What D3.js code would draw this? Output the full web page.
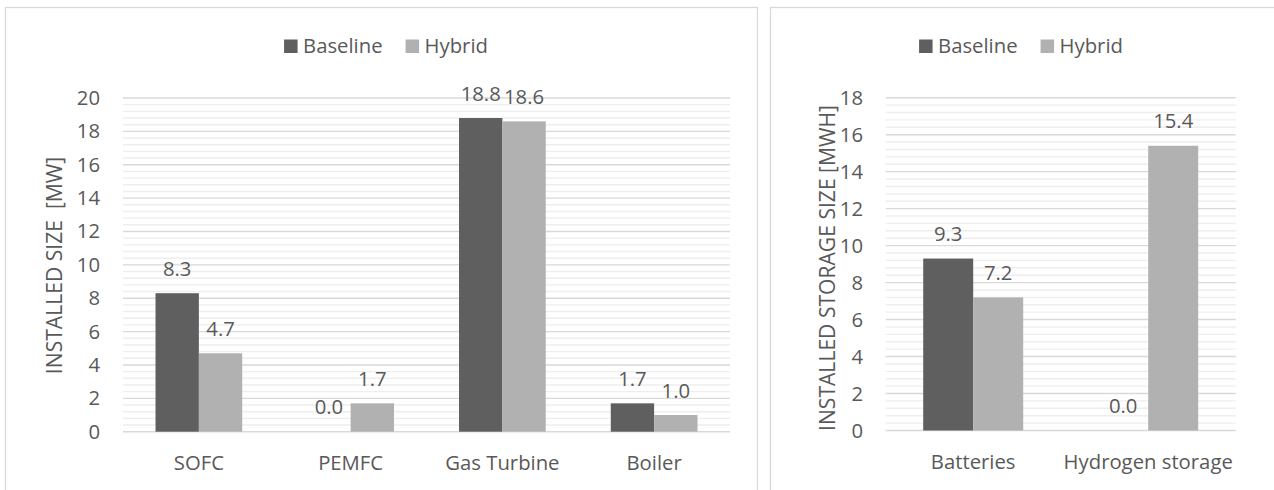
<!DOCTYPE html>
<html>
<head>
<meta charset="utf-8">
<script src="https://cdn.jsdelivr.net/npm/d3@7"></script>
<style>
  html, body { margin: 0; padding: 0; background: #ffffff; }
  svg { display: block; }
  text { font-family: "Open Sans", "Noto Sans", sans-serif; fill: #595959; }
</style>
</head>
<body>
<svg id="chart" width="1274" height="490"></svg>
<script>
// Installed generation capacity [MW]
const genCategories = ["SOFC", "PEMFC", "Gas Turbine", "Boiler"];
const genBaseline = [8.3, 0.0, 18.8, 1.7];
const genHybrid = [4.7, 1.7, 18.6, 1.0];
const genTicks = [0, 2, 4, 6, 8, 10, 12, 14, 16, 18, 20];

// Installed storage capacity [MWh]
const stoCategories = ["Batteries", "Hydrogen storage"];
const stoBaseline = [9.3, 0.0];
const stoHybrid = [7.2, 15.4];
const stoTicks = [0, 2, 4, 6, 8, 10, 12, 14, 16, 18];

const seriesNames = ["Baseline", "Hybrid"];
const seriesColors = { Baseline: "#5f5f5f", Hybrid: "#b1b1b1" };

const FONT = 20.3;
const TITLE_FONT = 21.1;
const svg = d3.select("#chart");

function drawPanel(cfg) {
  const g = svg.append("g");

  // outer frame
  g.append("rect")
    .attr("x", cfg.frame[0] + 0.5).attr("y", cfg.frame[1] + 0.5)
    .attr("width", cfg.frame[2]).attr("height", cfg.frame[3])
    .attr("fill", "#ffffff").attr("stroke", "#d9d9d9").attr("stroke-width", 1.3);

  const [x0p, x1p, yTop, yBot] = cfg.plot;
  const yMax = cfg.ticks[cfg.ticks.length - 1];
  const y = d3.scaleLinear().domain([0, yMax]).range([yBot, yTop]);
  const x0 = d3.scaleBand().domain(cfg.categories).range([x0p, x1p]).padding(0);
  const x1 = d3.scaleBand().domain(seriesNames).range([0, x0.bandwidth()])
    .paddingInner(0).paddingOuter(0.75);

  // minor gridlines every 0.4
  const minor = d3.range(0, yMax + 1e-9, 0.4).filter(v => Math.abs(v / 2 - Math.round(v / 2)) > 1e-6);
  g.append("g").selectAll("line").data(minor).join("line")
    .attr("x1", x0p).attr("x2", x1p)
    .attr("y1", d => y(d)).attr("y2", d => y(d))
    .attr("stroke", "#eeeeee").attr("stroke-width", 1.4);

  // major gridlines
  g.append("g").selectAll("line").data(cfg.ticks).join("line")
    .attr("x1", x0p).attr("x2", x1p)
    .attr("y1", d => y(d)).attr("y2", d => y(d))
    .attr("stroke", "#d9d9d9").attr("stroke-width", 1.4);

  // y axis labels
  const yAxis = d3.axisLeft(y).tickValues(cfg.ticks).tickSize(0).tickPadding(0)
    .tickFormat(d3.format("d"));
  const ya = g.append("g").attr("transform", `translate(${cfg.tickRight},0)`).call(yAxis);
  ya.select(".domain").remove();
  ya.selectAll("text").attr("font-size", FONT).attr("fill", "#595959")
    .style("font-family", "'Open Sans', 'Noto Sans', sans-serif");

  // x axis labels
  const xAxis = d3.axisBottom(x0).tickSize(0).tickPadding(0);
  const xa = g.append("g").attr("transform", `translate(0,${cfg.catY})`).call(xAxis);
  xa.select(".domain").remove();
  xa.selectAll("text").attr("font-size", FONT).attr("fill", "#595959").attr("dy", "0.35em")
    .style("font-family", "'Open Sans', 'Noto Sans', sans-serif");

  // bars
  const rows = cfg.categories.map((c, i) => ({
    cat: c,
    vals: [{ s: "Baseline", v: cfg.baseline[i] }, { s: "Hybrid", v: cfg.hybrid[i] }]
  }));
  const grp = g.append("g").selectAll("g").data(rows).join("g")
    .attr("transform", d => `translate(${x0(d.cat)},0)`);
  grp.selectAll("rect").data(d => d.vals).join("rect")
    .attr("x", d => x1(d.s)).attr("width", x1.bandwidth())
    .attr("y", d => y(d.v)).attr("height", d => y(0) - y(d.v))
    .attr("fill", d => seriesColors[d.s]);
  grp.selectAll("text").data(d => d.vals).join("text")
    .attr("x", d => x1(d.s) + x1.bandwidth() / 2)
    .attr("y", d => y(d.v) - 24.5)
    .attr("dy", "0.35em")
    .attr("text-anchor", "middle").attr("font-size", FONT)
    .text(d => d.v.toFixed(1));

  // y title
  g.append("text")
    .attr("transform", `translate(${cfg.titleX},${cfg.titleY}) rotate(-90)`)
    .attr("text-anchor", "middle").attr("dy", "0.35em")
    .attr("font-size", TITLE_FONT)
    .style("white-space", "pre")
    .text(cfg.title);

  // legend
  const lg = g.append("g");
  let cx = 0;
  seriesNames.forEach((s, i) => {
    lg.append("rect").attr("x", cx).attr("y", -6.5).attr("width", 13.5).attr("height", 13.5)
      .attr("fill", seriesColors[s]);
    const t = lg.append("text").attr("x", cx + 19).attr("y", 0).attr("dy", "0.35em")
      .attr("font-size", FONT).text(s);
    cx += 19 + t.node().getComputedTextLength() + 23;
  });
  const lw = cx - 23;
  lg.attr("transform", `translate(${cfg.legendCenter - lw / 2},${cfg.legendY})`);
}

drawPanel({
  frame: [5, 7, 752, 500],
  plot: [123, 730, 98, 431.7],
  categories: genCategories, baseline: genBaseline, hybrid: genHybrid,
  ticks: genTicks,
  tickRight: 100, catY: 463, titleX: 54.5, titleY: 265.5,
  title: "INSTALLED SIZE  [MW]",
  legendCenter: 386, legendY: 46
});

drawPanel({
  frame: [770, 7, 520, 500],
  plot: [885.7, 1235.7, 97.7, 430.5],
  categories: stoCategories, baseline: stoBaseline, hybrid: stoHybrid,
  ticks: stoTicks,
  tickRight: 863, catY: 462, titleX: 827.5, titleY: 268,
  title: "INSTALLED STORAGE SIZE [MWH]",
  legendCenter: 1021, legendY: 46
});
</script>
</body>
</html>
